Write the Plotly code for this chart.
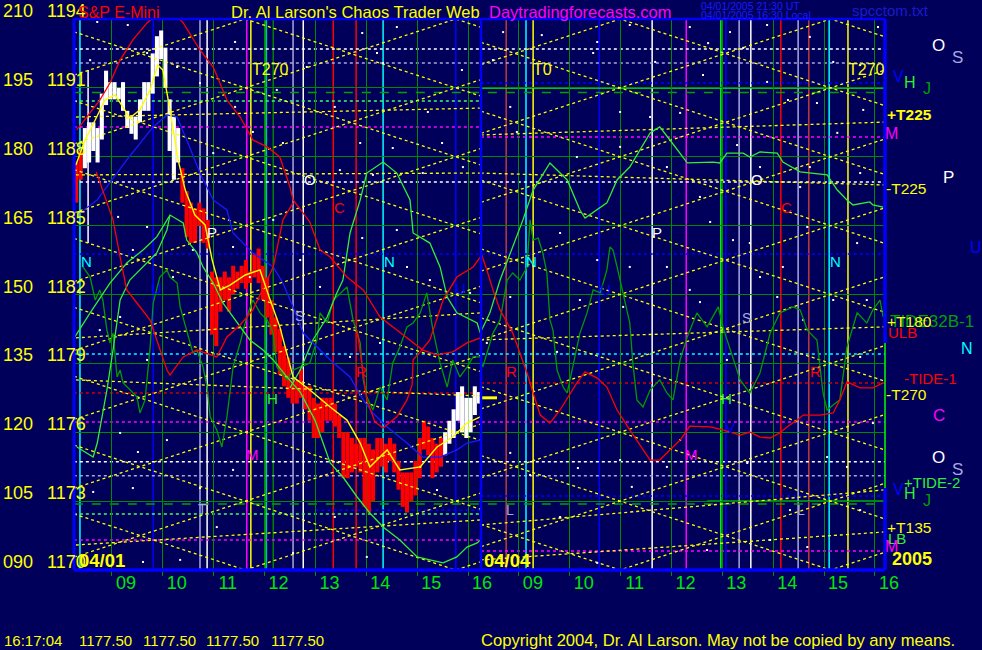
import plotly.graph_objects as go

# ---------------------------------------------------------------- data
hour_ticks = [9, 10, 11, 12, 13, 14, 15, 16, 17, 18, 19, 20, 21, 22, 23, 24]
hour_labels = ["09", "10", "11", "12", "13", "14", "15", "16",
               "09", "10", "11", "12", "13", "14", "15", "16"]
price_levels = [1170, 1173, 1176, 1179, 1182, 1185, 1188, 1191, 1194]
left_deg_labels = ["090", "105", "120", "135", "150", "165", "180", "195", "210"]
left_price_labels = ["1170", "1173", "1176", "1179", "1182", "1185", "1188", "1191", "1194"]
day_labels = ["04/01", "04/04"]
year_label = "2005"

# 5-minute price bars of 04/01 (high / low)
bar_t0 = 8.30
bar_step = 1.0 / 12.0
bar_high = [1187.75, 1188.25, 1189.25, 1189.50, 1189.50, 1189.25, 1190.75, 1191.75, 1191.25, 1191.25,
            1191.00, 1191.25, 1190.00, 1189.75, 1189.75, 1190.50, 1191.25, 1191.25, 1192.50, 1193.25,
            1193.50, 1192.75, 1190.50, 1189.75, 1189.25, 1187.50, 1186.50, 1186.00, 1185.75, 1186.00,
            1185.75, 1185.25, 1183.00, 1182.75, 1182.75, 1183.00, 1182.75, 1183.25, 1183.00, 1183.25,
            1183.50, 1183.00, 1183.75, 1184.00, 1183.25, 1182.75, 1181.75, 1181.00, 1180.50, 1179.75,
            1179.25, 1178.25, 1178.25, 1178.75, 1178.00, 1178.00, 1177.50, 1177.25, 1177.50, 1177.50,
            1177.50, 1177.25, 1176.75, 1176.00, 1176.00, 1175.75, 1175.50, 1175.75, 1175.75, 1175.50,
            1175.25, 1175.75, 1175.75, 1175.50, 1175.75, 1175.50, 1174.75, 1174.25, 1174.25, 1174.25,
            1174.75, 1175.75, 1176.50, 1176.25, 1175.75, 1175.50, 1175.75, 1176.00, 1176.50, 1177.00,
            1177.75, 1178.00, 1177.50, 1177.50, 1178.00, 1177.75]
bar_low = [1186.00, 1187.00, 1187.50, 1187.75, 1188.25, 1187.75, 1188.75, 1190.25, 1190.50, 1190.50,
           1190.50, 1190.00, 1189.25, 1189.00, 1188.75, 1189.50, 1190.00, 1190.00, 1190.75, 1191.50,
           1192.25, 1191.00, 1188.25, 1187.00, 1187.75, 1186.00, 1184.50, 1184.25, 1184.25, 1185.00,
           1184.25, 1184.00, 1180.25, 1179.75, 1181.25, 1181.75, 1181.25, 1182.00, 1182.25, 1182.50,
           1182.25, 1182.50, 1182.75, 1182.50, 1181.75, 1181.00, 1180.25, 1179.50, 1178.50, 1178.00,
           1177.50, 1177.25, 1177.25, 1177.50, 1177.00, 1176.50, 1175.75, 1175.75, 1176.00, 1176.50,
           1176.50, 1176.25, 1175.75, 1174.00, 1174.00, 1174.25, 1174.50, 1174.25, 1172.75, 1172.50,
           1173.00, 1174.25, 1174.50, 1174.25, 1174.75, 1174.25, 1173.50, 1172.75, 1172.50, 1173.00,
           1173.25, 1174.00, 1175.25, 1175.00, 1174.00, 1174.25, 1174.50, 1175.00, 1175.50, 1175.75,
           1176.50, 1176.00, 1175.75, 1176.00, 1176.75, 1177.25]
white_spans = [(2, 24), (87, 95)]
last_price = 1177.50
last_price_t = [16.27, 16.57]

# smoothed price (yellow)
ma_t = [8.29, 8.47, 8.67, 8.86, 9.06, 9.26, 9.35, 9.55, 9.75, 9.90, 10.00, 10.14, 10.30, 10.44,
        10.63, 10.83, 10.97, 11.13, 11.32, 11.62, 11.91, 12.11, 12.30, 12.56, 12.89, 13.29, 13.62,
        13.88, 14.07, 14.41, 14.66, 15.06, 15.39, 15.70, 15.98, 16.24]
ma_p = [1187.64, 1188.73, 1189.60, 1190.47, 1190.69, 1190.04, 1189.69, 1190.04, 1190.91, 1192.00,
        1191.78, 1190.04, 1187.86, 1186.55, 1185.46, 1185.03, 1183.50, 1182.20, 1182.41, 1182.85,
        1183.07, 1181.76, 1180.59, 1178.41, 1177.84, 1177.10, 1176.53, 1175.53, 1174.49, 1175.23,
        1174.36, 1174.49, 1175.36, 1175.79, 1176.40, 1176.67]

# red cycle curves
red_a_t = [8.31, 8.51, 8.76, 8.96, 9.16, 9.41, 9.69, 10.00, 10.20, 10.40, 10.73, 10.99, 11.26, 11.52,
           11.77, 12.05, 12.30, 12.50, 12.56, 12.89, 13.09, 13.29, 13.62, 13.94, 14.27, 14.60, 15.11,
           15.39, 15.70, 15.98, 16.24]
red_a_p = [1189.17, 1189.73, 1190.47, 1191.21, 1192.21, 1193.09, 1193.83, 1194.39, 1194.26, 1193.83,
           1192.65, 1191.91, 1190.47, 1189.73, 1188.73, 1188.43, 1187.99, 1186.68, 1186.12, 1185.16,
           1183.94, 1183.63, 1182.76, 1182.20, 1181.02, 1180.45, 1179.58, 1179.37, 1179.50, 1179.89,
           1180.11]
red_b_t = [8.69, 8.82, 9.02, 9.16, 9.29, 9.49, 9.75, 9.88, 10.08, 10.14, 10.40, 10.67, 11.06, 11.26,
           11.52, 11.77, 12.17, 12.36, 12.56]
red_b_p = [1187.34, 1186.55, 1185.25, 1183.63, 1182.20, 1181.63, 1180.89, 1180.02, 1178.71, 1178.49,
           1179.28, 1179.58, 1179.28, 1180.15, 1180.67, 1181.33, 1183.20, 1185.25, 1185.99]
red_c_t = [13.82, 13.92, 14.01, 14.17, 14.33, 14.60, 14.80, 14.90, 14.92, 15.06, 15.25, 15.51, 15.78,
           16.10, 16.27, 16.37, 16.49, 16.63, 16.77, 16.88, 17.02, 17.16, 17.28, 17.42, 17.61, 17.81,
           18.14, 18.30, 18.54, 18.73, 18.93, 19.18, 19.58, 19.77, 19.97, 20.17, 20.36, 20.76, 20.95,
           21.35, 21.54, 21.74, 21.94, 22.13, 22.27, 22.47, 22.59, 22.92, 23.18, 23.31, 23.45, 23.71,
           23.96, 24.16]
red_c_p = [1180.45, 1178.93, 1177.41, 1176.45, 1176.19, 1176.67, 1177.41, 1178.06, 1179.15, 1179.50,
           1180.02, 1181.76, 1182.76, 1183.20, 1183.72, 1183.07, 1182.20, 1181.33, 1180.76, 1180.32,
           1179.45, 1178.58, 1177.71, 1176.75, 1176.40, 1176.97, 1178.15, 1178.63, 1178.36, 1177.97,
           1176.97, 1176.10, 1174.79, 1174.79, 1175.23, 1175.66, 1176.27, 1176.23, 1176.14, 1175.88,
           1176.01, 1175.79, 1175.75, 1175.97, 1176.23, 1176.53, 1176.75, 1176.75, 1176.84, 1177.41,
           1178.19, 1177.93, 1177.93, 1178.15]

# blue cycle curve
blue_t = [8.37, 8.71, 9.29, 9.81, 10.08, 10.28, 10.47, 10.73, 10.99, 11.26, 11.38, 11.77, 12.17, 12.36,
          12.56, 12.76, 13.09, 13.29, 13.68, 13.94, 14.13, 14.41, 14.80, 15.11, 15.45, 15.78, 15.98,
          16.24]
blue_p = [1185.55, 1186.12, 1187.86, 1189.30, 1189.82, 1189.73, 1188.73, 1187.29, 1186.12, 1185.68,
          1184.68, 1183.81, 1183.20, 1182.50, 1181.46, 1180.32, 1179.58, 1179.15, 1178.41, 1177.41,
          1176.84, 1176.23, 1175.53, 1174.92, 1174.92, 1175.23, 1175.53, 1175.66]

# light green cycle curves
g0_t = [8.31, 8.63, 8.71, 8.90, 9.02, 9.16, 9.35, 9.61, 9.88, 10.08, 10.14]
g0_p = [1175.36, 1174.92, 1175.53, 1177.84, 1179.58, 1181.76, 1182.63, 1183.20, 1183.81, 1184.81,
        1185.46]
g1_t = [8.27, 8.57, 8.96, 9.29, 9.61, 9.88, 10.14, 10.40, 10.47, 10.67, 10.79, 10.99, 11.18, 11.38,
        11.71, 11.97, 12.17, 12.44, 12.70, 12.99, 13.29, 13.54, 13.82, 14.07, 14.33, 14.66, 15.00,
        15.25, 15.51, 15.78, 15.98, 16.18, 16.24]
g1_p = [1180.15, 1181.20, 1182.50, 1183.37, 1183.94, 1184.51, 1185.46, 1185.12, 1184.37, 1183.81,
        1183.20, 1182.50, 1181.63, 1181.02, 1180.02, 1179.58, 1179.15, 1178.41, 1177.75, 1176.53,
        1174.66, 1174.05, 1173.18, 1172.48, 1171.87, 1171.31, 1170.57, 1170.44, 1170.31, 1170.57,
        1171.00, 1171.18, 1171.31]
g2_t = [12.50, 12.70, 12.95, 13.23, 13.42, 13.54, 13.68, 13.88, 14.01, 14.33, 14.60, 14.86, 14.92,
        15.25, 15.45, 15.59, 15.78, 16.18, 16.24, 16.43, 16.63, 16.88, 17.08, 17.28, 17.61, 17.95,
        18.20, 18.30, 18.54, 18.73, 18.93, 19.18, 19.58, 19.77, 19.97, 20.31, 20.82, 20.95, 21.09,
        21.41, 21.54, 21.74, 22.08, 22.19, 22.53, 23.06, 23.26, 23.45, 23.57, 23.90, 23.96, 24.16]
g2_p = [1177.93, 1178.71, 1180.02, 1181.02, 1182.07, 1182.63, 1184.68, 1186.12, 1187.29, 1187.77,
        1187.29, 1186.12, 1184.68, 1184.24, 1183.20, 1181.89, 1181.20, 1180.76, 1180.32, 1181.20,
        1182.63, 1184.07, 1185.25, 1186.55, 1187.73, 1186.99, 1185.68, 1185.33, 1185.68, 1185.99,
        1186.99, 1187.55, 1189.04, 1189.30, 1188.73, 1187.73, 1187.77, 1187.73, 1188.16, 1188.16,
        1187.99, 1188.21, 1188.16, 1187.77, 1187.34, 1187.21, 1186.55, 1186.12, 1185.90, 1186.03,
        1185.90, 1185.81]

# dark green oscillator (E32B-1)
e_t = [8.43, 8.57, 8.67, 8.76, 8.82, 8.90, 8.96, 9.02, 9.10, 9.16, 9.22, 9.35, 9.49, 9.55, 9.65, 9.75,
       9.81, 9.94, 10.08, 10.14, 10.28, 10.34, 10.47, 10.59, 10.67, 10.79, 10.87, 10.93, 11.06, 11.16,
       11.26, 11.38, 11.52, 11.65, 11.77, 11.91, 12.05, 12.17, 12.24, 12.44, 12.56, 12.70, 12.89,
       13.03, 13.09, 13.23, 13.35, 13.62, 13.74, 13.88, 13.94, 14.01, 14.13, 14.27, 14.41, 14.52,
       14.66, 14.80, 14.92, 15.06, 15.19, 15.31, 15.45, 15.59, 15.70, 15.84, 15.98, 16.10, 16.24,
       16.29, 16.49, 16.63, 16.77, 16.88, 17.02, 17.16, 17.22, 17.28, 17.38, 17.47, 17.55, 17.61,
       17.67, 17.75, 17.87, 17.95, 18.06, 18.20, 18.34, 18.46, 18.60, 18.73, 18.79, 18.85, 18.93,
       19.05, 19.18, 19.24, 19.32, 19.44, 19.58, 19.77, 19.91, 20.03, 20.17, 20.31, 20.50, 20.70,
       20.92, 21.01, 21.21, 21.35, 21.54, 21.74, 21.94, 22.13, 22.39, 22.53, 22.67, 22.86, 22.98,
       23.06, 23.18, 23.31, 23.45, 23.65, 23.84, 23.96, 24.10, 24.16]
e_p = [1183.20, 1182.76, 1181.76, 1182.20, 1181.76, 1180.45, 1179.89, 1180.32, 1178.41, 1178.71,
       1178.15, 1177.84, 1177.54, 1176.84, 1177.41, 1179.71, 1181.63, 1182.76, 1183.07, 1182.76,
       1182.50, 1181.46, 1180.45, 1179.45, 1179.58, 1178.84, 1177.97, 1176.67, 1176.10, 1175.36,
       1176.67, 1178.84, 1179.89, 1181.02, 1181.76, 1181.20, 1180.89, 1180.32, 1178.84, 1178.28,
       1178.71, 1178.84, 1179.02, 1180.02, 1181.20, 1180.76, 1181.76, 1182.33, 1180.89, 1179.89,
       1178.28, 1177.54, 1176.97, 1177.97, 1177.41, 1179.02, 1179.71, 1180.59, 1180.76, 1181.20,
       1182.07, 1180.45, 1179.02, 1177.97, 1179.15, 1178.41, 1178.84, 1179.28, 1179.28,
       1178.84, 1180.32, 1180.89, 1182.63, 1182.94, 1182.63, 1183.20, 1185.25, 1184.37, 1184.46,
       1183.81, 1182.94, 1180.89, 1180.45, 1178.71, 1177.97, 1177.71, 1178.84, 1180.32, 1181.20,
       1182.20, 1182.07, 1183.07, 1184.07, 1183.94, 1183.20, 1182.07, 1180.76, 1179.02, 1177.41,
       1177.10, 1177.84, 1178.28, 1177.71, 1177.41, 1179.15, 1180.15, 1181.20, 1180.59, 1181.46,
       1180.59, 1179.28, 1178.28, 1177.71, 1178.58, 1180.32, 1181.20, 1181.46, 1181.33, 1180.45,
       1180.02, 1177.71, 1176.97, 1177.19, 1177.41, 1179.71, 1181.20, 1180.76, 1181.33, 1181.76,
       1181.02]

# time-price lattice (yellow dotted T lines): levels, day spans with anchor time, slope (pts/hour)
lattice_levels = [1164, 1167, 1170, 1173, 1176, 1179, 1182, 1185, 1188, 1191, 1194, 1197, 1200]
lattice_days = [(8.253, 16.255, 11.62), (16.255, 24.20, 18.99)]
lattice_slope = 0.725
# flatter price lines: (t0, p0, t1, p1)
flat_lines = [(8.29, 1189.73, 16.25, 1190.12), (8.29, 1180.11, 16.25, 1181.20),
              (8.29, 1178.28, 16.25, 1177.58), (8.29, 1171.09, 16.25, 1172.18),
              (8.29, 1187.21, 16.25, 1187.29), (16.25, 1187.29, 24.20, 1186.77),
              (16.25, 1188.95, 24.20, 1189.51), (16.25, 1180.02, 24.20, 1180.59),
              (16.25, 1171.96, 24.20, 1173.49), (16.25, 1170.44, 24.20, 1171.66)]

# vertical timing lines (hours)
v_cyan = [8.37, 14.33, 17.14, 23.10]
v_blue = [9.81, 12.05, 15.76, 18.58, 21.07]
v_lavender = [10.73, 12.56, 21.33, 22.49]
v_white = [10.87, 12.76, 19.62, 21.56]
v_magenta = [11.65, 20.29]
v_yellow = [11.73, 17.28, 23.47]
v_bright_green = [12.03, 20.97]
v_dark_green = [12.17]
v_red = [13.35, 13.80, 22.15]
v_dark_red = [16.75, 22.70]
v_white_partial = [(8.53, 1184.24, 1191.78)]
day_break = 16.255

# horizontal price levels: (price, start hour, end hour)
h_white = [(1192.69, 8.25, 24.2), (1186.90, 8.25, 24.2), (1174.71, 8.25, 24.2)]
h_lavender = [(1192.08, 8.25, 24.2), (1174.10, 8.25, 24.2)]
h_dark_green = [(1190.80, 8.25, 24.2), (1172.88, 8.25, 24.2)]
h_light_green = [(1190.43, 8.25, 16.255), (1172.44, 8.25, 16.255)]
h_blue = [(1191.21, 16.255, 24.2), (1183.76, 8.25, 24.2), (1173.22, 16.255, 24.2),
          (1172.60, 13.0, 16.255)]
h_magenta = [(1189.30, 8.25, 16.255), (1188.86, 16.255, 24.2), (1176.45, 8.25, 24.2),
             (1171.31, 8.25, 16.255), (1170.83, 16.255, 24.2)]
h_cyan = [(1179.41, 8.25, 24.2)]
h_dark_red = [(1177.71, 8.25, 16.255), (1178.15, 16.255, 24.2)]
h_bright_green = [(1191.00, 16.255, 24.2), (1173.00, 20.70, 24.2)]

# background star dots
dot_t = [8.71, 9.31, 11.42, 9.69, 10.28, 8.57, 10.73, 11.42, 11.77, 12.36, 10.99, 12.24, 12.83, 13.92,
         14.60, 14.21, 14.33, 15.88, 16.49, 16.69, 17.45, 18.46, 18.54, 19.18, 19.68, 13.38, 15.21,
         15.49, 14.52, 13.88, 13.48, 14.13, 15.11, 15.90, 18.14, 18.99, 19.58, 16.83, 16.96, 18.99,
         20.36, 21.15, 21.88, 22.72, 24.06, 20.72, 21.41, 20.62, 21.88, 23.18, 23.71, 23.77, 22.29,
         22.86, 20.17, 21.29, 23.26, 19.91, 21.74, 22.72, 20.56, 23.71, 22.53, 9.12, 9.69, 9.41,
         10.59, 11.38, 12.17, 12.70, 11.71, 10.20, 8.76, 9.16, 9.69, 13.09, 9.16, 9.51, 10.08, 8.63,
         9.41, 10.73, 11.38, 11.06, 9.61, 10.34, 12.56, 16.83, 17.22, 17.81, 18.16, 18.99, 19.22,
         18.54, 14.01, 15.06, 15.39, 13.38, 20.17, 20.70, 21.49, 21.94, 22.33, 22.67, 23.06, 23.45,
         23.71, 23.96, 19.91, 20.76, 21.21, 21.54, 21.74, 19.91, 20.36, 22.67, 23.65, 23.84, 22.19,
         22.08, 22.59, 23.18, 23.71, 20.56, 21.09, 13.92, 14.60, 14.80, 15.25, 16.04, 17.81, 18.54,
         18.20, 19.18, 19.05, 16.83, 16.37, 14.27, 13.68, 17.75]
dot_p = [1193.87, 1193.74, 1193.00, 1192.52, 1191.91, 1192.21, 1191.21, 1190.17, 1189.08, 1188.60,
         1188.16, 1190.91, 1191.91, 1193.39, 1193.65, 1192.52, 1192.08, 1191.78, 1192.21, 1193.43,
         1193.30, 1192.52, 1193.00, 1193.74, 1192.13, 1190.17, 1189.95, 1188.60, 1188.38, 1188.60,
         1187.42, 1187.21, 1187.29, 1187.55, 1187.99, 1189.95, 1189.73, 1190.17, 1189.08, 1188.43,
         1193.65, 1193.43, 1193.74, 1193.22, 1193.65, 1192.95, 1192.74, 1191.56, 1191.26, 1192.13,
         1192.00, 1190.04, 1190.47, 1190.34, 1189.91, 1188.51, 1189.04, 1187.55, 1187.55, 1187.55,
         1186.25, 1187.29, 1186.68, 1185.38, 1184.94, 1183.94, 1183.94, 1184.07, 1185.25, 1183.50,
         1182.76, 1182.76, 1180.45, 1181.02, 1179.15, 1182.33, 1175.97, 1175.14, 1175.66, 1173.40,
         1173.57, 1173.57, 1174.36, 1171.87, 1170.35, 1170.44, 1170.74, 1175.10, 1174.14, 1172.31,
         1174.44, 1174.79, 1173.62, 1170.31, 1170.57, 1174.49, 1173.49, 1172.31, 1175.66, 1170.87,
         1174.66, 1171.31, 1172.61, 1171.00, 1174.92, 1174.49, 1172.61, 1176.40, 1174.49, 1185.16,
         1184.37, 1184.24, 1182.76, 1183.20, 1182.20, 1184.94, 1184.24, 1181.76, 1183.20, 1181.89,
         1180.89, 1181.76, 1179.28, 1181.67, 1179.15, 1184.46, 1184.81, 1183.20, 1182.63, 1182.07,
         1184.68, 1183.50, 1181.76, 1183.20, 1181.46, 1181.89, 1179.89, 1179.89, 1179.28, 1179.50]

# in-chart markers: (text, hour, price)
in_labels_yellow = [("T270", 12.11, 1191.82), ("T0", 17.47, 1191.82), ("T270", 23.83, 1191.82)]
in_labels_white = [("O", 12.89, 1187.03), ("O", 21.68, 1187.03), ("P", 10.97, 1184.68),
                   ("P", 19.72, 1184.68)]
in_labels_red = [("C", 13.48, 1185.81), ("C", 22.27, 1185.81), ("R", 13.90, 1178.63),
                 ("R", 16.85, 1178.63), ("R", 22.84, 1178.63)]
in_labels_cyan = [("N", 8.49, 1183.42), ("N", 14.45, 1183.42), ("N", 17.24, 1183.42),
                  ("N", 23.22, 1183.42)]
in_labels_blue = [("U", 9.87, 1182.24), ("U", 15.86, 1182.24), ("U", 18.71, 1182.20),
                  ("V", 21.15, 1176.19)]
in_labels_lavender = [("S", 12.68, 1181.06), ("S", 21.47, 1180.98), ("T", 10.77, 1172.66),
                      ("L", 16.83, 1172.61), ("L", 22.55, 1172.61)]
in_labels_green = [("H", 12.15, 1177.49), ("H", 21.09, 1177.49)]
in_labels_magenta = [("M", 11.77, 1175.05), ("M", 20.40, 1175.05)]

# ---------------------------------------------------------------- style
BG = "#00005a"
FONT = "Liberation Sans, Arial, sans-serif"
YEL = "#ffff00"
GRID = "#008a00"
BRIGHT = "#00ff00"
LIGHTG = "#33ee33"
DARKG = "#009a00"
BLUE = "#0000ff"
LAV = "#a8a8e0"
RED = "#ff0000"
MAG = "#ff00ff"
CYAN = "#00ffff"


def xp(px):
    return (px - 74) / 811.0


def yp(py):
    return (570 - py) / 551.0


fig = go.Figure()

# lattice lines
lx, ly = [], []
for a, b, t0 in lattice_days:
    for lev in lattice_levels:
        for s in (lattice_slope, -lattice_slope):
            lx += [a, b, None]
            ly += [lev + s * (a - t0), lev + s * (b - t0), None]
for t0, p0, t1, p1 in flat_lines:
    lx += [t0, t1, None]
    ly += [p0, p1, None]
fig.add_trace(go.Scatter(x=lx, y=ly, mode="lines", hoverinfo="skip",
                         line=dict(color=YEL, width=1.3, dash="dot")))

# star dots
fig.add_trace(go.Scatter(x=dot_t, y=dot_p, mode="markers", hoverinfo="skip",
                         marker=dict(color="#ffffff", size=2, symbol="square", line=dict(width=0))))


def curve(t, p, color, width=1.3):
    fig.add_trace(go.Scatter(x=t, y=p, mode="lines", hoverinfo="skip",
                             line=dict(color=color, width=width)))


curve(e_t, e_p, DARKG, 1.3)
curve(g0_t, g0_p, LIGHTG)
curve(g1_t, g1_p, LIGHTG)
curve(g2_t, g2_p, LIGHTG)
curve(blue_t, blue_p, "#1a1aff")
curve(red_a_t, red_a_p, RED)
curve(red_b_t, red_b_p, RED)
curve(red_c_t, red_c_p, RED)

# price bars
bar_t = [bar_t0 + i * bar_step for i in range(len(bar_high))]
is_white = [any(a <= i <= b for a, b in white_spans) for i in range(len(bar_high))]
for want, color in ((False, RED), (True, "#ffffff")):
    idx = [i for i in range(len(bar_high)) if is_white[i] == want]
    fig.add_trace(go.Bar(x=[bar_t[i] for i in idx],
                         y=[bar_high[i] - bar_low[i] for i in idx],
                         base=[bar_low[i] for i in idx],
                         width=0.08, marker=dict(color=color, line=dict(width=0)),
                         hoverinfo="skip"))
curve(ma_t, ma_p, YEL, 1.4)
fig.add_trace(go.Scatter(x=last_price_t, y=[last_price, last_price], mode="lines",
                         hoverinfo="skip", line=dict(color=YEL, width=3)))

# shapes: horizontal levels
shapes = []


def hlines(items, color, dash="dot", width=1.5):
    for p, a, b in items:
        shapes.append(dict(type="line", xref="x", yref="y", x0=a, x1=b, y0=p, y1=p,
                           line=dict(color=color, width=width, dash=dash), layer="below"))


hlines(h_white, "#ffffff")
hlines(h_lavender, LAV)
hlines(h_dark_green, "#00a000", dash="dash")
hlines(h_light_green, "#40ff60")
hlines(h_blue, BLUE)
hlines(h_magenta, MAG)
hlines(h_cyan, CYAN)
hlines(h_dark_red, "#d00000")
hlines(h_bright_green, BRIGHT, dash="solid", width=1.5)


def vlines(ts, color, width=1.5):
    for t in ts:
        shapes.append(dict(type="line", xref="x", yref="paper", x0=t, x1=t, y0=0, y1=1,
                           line=dict(color=color, width=width), layer="below"))


vlines(v_cyan, CYAN)
vlines(v_blue, BLUE)
vlines(v_lavender, LAV)
vlines(v_white, "#ffffff")
vlines(v_magenta, MAG)
vlines(v_yellow, YEL)
vlines(v_bright_green, BRIGHT)
vlines(v_dark_green, "#008000")
vlines(v_red, RED)
vlines(v_dark_red, "#c03a3a")
for t, p0, p1 in v_white_partial:
    shapes.append(dict(type="line", xref="x", yref="y", x0=t, x1=t, y0=p0, y1=p1,
                       line=dict(color="#ffffff", width=1.5), layer="below"))

# borders and day separator
shapes.append(dict(type="line", xref="x", yref="paper", x0=day_break, x1=day_break, y0=0, y1=1,
                   line=dict(color=BLUE, width=2.5), layer="above"))
shapes.append(dict(type="line", xref="paper", yref="paper", x0=0, x1=0, y0=0, y1=1,
                   line=dict(color=BLUE, width=3), layer="above"))
shapes.append(dict(type="line", xref="paper", yref="paper", x0=0, x1=1, y0=1, y1=1,
                   line=dict(color=BLUE, width=2.5), layer="above"))
shapes.append(dict(type="line", xref="paper", yref="paper", x0=0, x1=1, y0=0, y1=0,
                   line=dict(color=BLUE, width=3.5), layer="above"))
shapes.append(dict(type="line", xref="paper", yref="paper", x0=1, x1=1, y0=yp(343), y1=1,
                   line=dict(color=BLUE, width=3.5), layer="above"))
shapes.append(dict(type="line", xref="paper", yref="paper", x0=1, x1=1, y0=yp(488), y1=yp(343),
                   line=dict(color=BRIGHT, width=1.5), layer="above"))
shapes.append(dict(type="line", xref="paper", yref="paper", x0=1, x1=1, y0=0, y1=yp(488),
                   line=dict(color=BLUE, width=3.5), layer="above"))

# ---------------------------------------------------------------- annotations
ann = []


def text(s, x, y, color, size, xref="x", yref="y", xanchor="center", yanchor="middle",
         bold=False, yshift=0):
    ann.append(dict(text=("<b>%s</b>" % s) if bold else s, x=x, y=y, xref=xref, yref=yref,
                    xanchor=xanchor, yanchor=yanchor, showarrow=False, yshift=yshift,
                    borderpad=0, font=dict(color=color, size=size, family=FONT)))


for d, p, v in zip(left_deg_labels, left_price_labels, price_levels):
    text(d, xp(2), v, YEL, 18, xref="paper", xanchor="left", yshift=8)
    text(p, xp(46), v, YEL, 18, xref="paper", xanchor="left", yshift=8)

for group, color, size in ((in_labels_yellow, YEL, 16), (in_labels_white, "#ffffff", 15),
                           (in_labels_red, RED, 15), (in_labels_cyan, CYAN, 15),
                           (in_labels_blue, BLUE, 15), (in_labels_lavender, LAV, 14),
                           (in_labels_green, LIGHTG, 15), (in_labels_magenta, MAG, 15)):
    for s, t, p in group:
        text(s, t, p, color, size)

# header
text("S&amp;P E-Mini", xp(77), yp(12), RED, 16, xref="paper", yref="paper", xanchor="left")
text("Dr. Al Larson's Chaos Trader Web", xp(230), yp(12), YEL, 16.5, xref="paper", yref="paper",
     xanchor="left")
text("Daytradingforecasts.com", xp(488), yp(12), MAG, 16.5, xref="paper", yref="paper",
     xanchor="left")
text("04/01/2005 21:30 UT", xp(700), yp(6), "#1a1aff", 10.5, xref="paper", yref="paper",
     xanchor="left")
text("04/01/2005 16:30 Local", xp(700), yp(15), "#1a1aff", 10.5, xref="paper", yref="paper",
     xanchor="left")
text("spcctom.txt", xp(851), yp(11), "#1a1acc", 15, xref="paper", yref="paper", xanchor="left")

# day labels
text(day_labels[0], xp(78), yp(560), YEL, 18.5, xref="paper", yref="paper", xanchor="left", bold=True)
text(day_labels[1], xp(483), yp(560), YEL, 18.5, xref="paper", yref="paper", xanchor="left", bold=True)
text(year_label, xp(891), yp(559), YEL, 18, xref="paper", yref="paper", xanchor="left", bold=True)

# right margin legend
right_items = [
    ("O", 939, 45, "#ffffff", 17, "center", False), ("S", 958, 57, LAV, 17, "center", False),
    ("V", 898, 76, BLUE, 16, "center", False), ("H", 910, 82, LIGHTG, 16, "center", False),
    ("J", 927, 88, "#00a000", 16, "center", False),
    ("+T225", 886, 114, YEL, 15.5, "left", True), ("M", 891, 133, MAG, 16, "center", False),
    ("P", 948, 178, "#ffffff", 17, "center", False), ("-T225", 885, 189, YEL, 15.5, "left", False),
    ("U", 976, 248, BLUE, 16, "center", False),
    ("TIDE32B-1", 889, 321, "#00a000", 17, "left", False),
    ("+T180", 886, 321, YEL, 15.5, "left", False), ("ULB", 887, 332, RED, 15, "left", False),
    ("N", 967, 348, CYAN, 16, "center", False), ("-TIDE-1", 903, 378, RED, 15, "left", False),
    ("-T270", 885, 394, YEL, 15.5, "left", False), ("C", 939, 415, MAG, 17, "center", False),
    ("O", 939, 457, "#ffffff", 17, "center", False), ("S", 958, 470, LAV, 17, "center", False),
    ("+TIDE-2", 903, 482, LIGHTG, 15, "left", False), ("V", 899, 489, BLUE, 16, "center", False),
    ("H", 910, 494, LIGHTG, 16, "center", False), ("J", 927, 500, "#00a000", 16, "center", False),
    ("+T135", 886, 527, YEL, 15.5, "left", False), ("LB", 887, 538, LIGHTG, 15, "left", False),
    ("M", 891, 546, MAG, 16, "center", False),
]
for s, px, py, color, size, anchor, bold in right_items:
    text(s, xp(px), yp(py), color, size, xref="paper", yref="paper", xanchor=anchor, bold=bold)

# footer
footer_x = [3, 78, 142, 205, 270]
footer_txt = ["16:17:04", "1177.50", "1177.50", "1177.50", "1177.50"]
for px, s in zip(footer_x, footer_txt):
    text(s, xp(px), yp(640), YEL, 15, xref="paper", yref="paper", xanchor="left")
text("Copyright 2004, Dr. Al Larson. May not be copied by any means.", xp(480), yp(640), YEL, 16.6,
     xref="paper", yref="paper", xanchor="left")

fig.update_layout(
    width=982, height=650, autosize=False,
    margin=dict(l=74, r=97, t=19, b=80, pad=0),
    paper_bgcolor=BG, plot_bgcolor=BG, showlegend=False,
    font=dict(family=FONT), shapes=shapes, annotations=ann, barmode="overlay",
    hovermode=False,
)
fig.update_xaxes(range=[8.253, 24.198], tickvals=hour_ticks, ticktext=hour_labels,
                 showgrid=True, gridcolor=GRID, gridwidth=1.2, zeroline=False, showline=False,
                 ticks="outside", ticklen=5, tickwidth=1.2, tickcolor=GRID,
                 tickfont=dict(size=18, color="#00e800", family=FONT), ticklabelshift=14,
                 ticklabelstandoff=-9, fixedrange=True)
fig.update_yaxes(range=[1170, 1194], tickvals=price_levels, showticklabels=False, ticks="",
                 showgrid=True, gridcolor=GRID, gridwidth=1.2, zeroline=False, showline=False,
                 fixedrange=True)

fig.write_html("out.html", config={"displayModeBar": False},
               post_script="document.body.style.margin='0px';"
                           "document.body.style.overflow='hidden';"
                           "document.body.style.background='" + BG + "';")
